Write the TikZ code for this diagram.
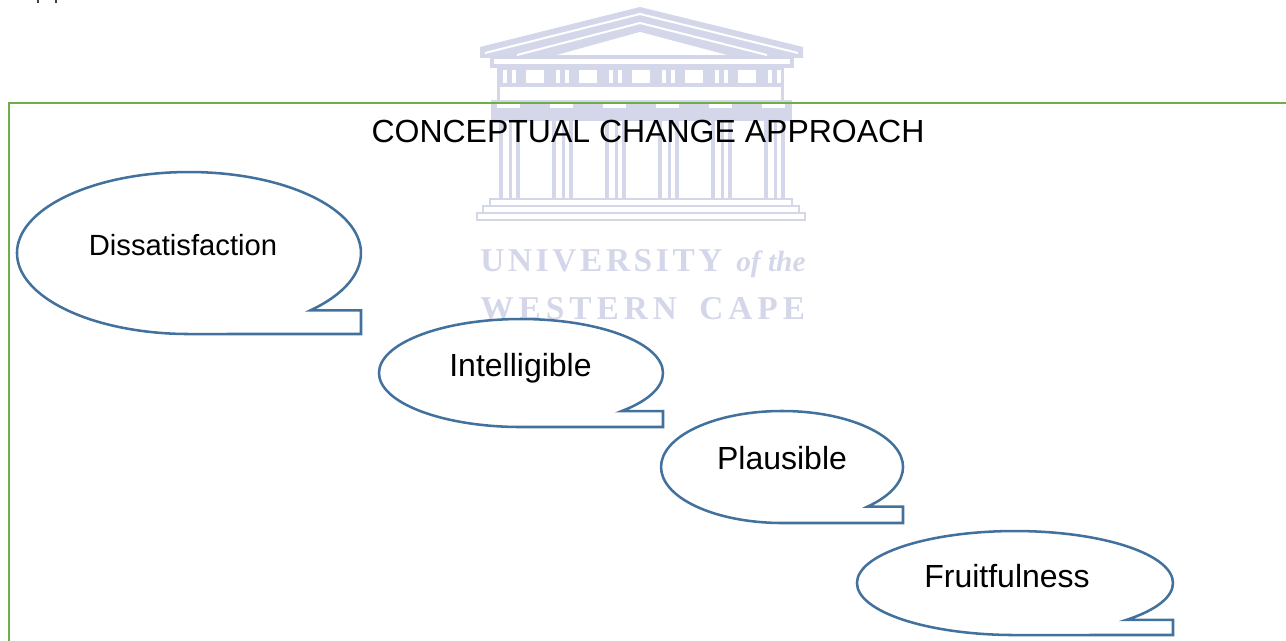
\documentclass[tikz,border=0pt]{standalone}
\usepackage{fontspec}
\setmainfont{Liberation Sans}
\newfontfamily\crestfont[LetterSpace=11]{Liberation Serif}
\newfontfamily\crestwide[LetterSpace=15]{Liberation Serif}
\newfontfamily\crestsmall{Liberation Serif}
\definecolor{crest}{RGB}{212,215,233}
\definecolor{bubbleblue}{RGB}{65,113,156}
\definecolor{framegreen}{RGB}{112,173,71}
\tikzstyle{bubble}=[draw=bubbleblue, line width=1.9pt, line join=miter, miter limit=20]
\tikzstyle{frameline}=[draw=framegreen, line width=1.9pt]
\tikzstyle{label}=[anchor=base, inner sep=0pt, text=black, font=\fontsize{24}{28}\selectfont]
\tikzstyle{cresttext}=[anchor=base west, inner sep=0pt, text=crest]

\begin{document}
\begin{tikzpicture}[x=0.75pt,y=-0.75pt]
        \useasboundingbox (0,0) rectangle (1286,641);

        % clipped line above the frame
        \fill[black!75] (37,0) rectangle (39,3);
        \fill[black!75] (55,0) rectangle (57,3);

        % crest behind everything
        \fill[crest] (480,47) -- (640,7) -- (803,47) -- (803,58) -- (480,58) -- cycle;
        \draw[white, line width=1.5pt] (485,53) -- (640,14) -- (798,53);
        \draw[white, line width=1.5pt] (517,55) -- (640,23) -- (767,55);
        \fill[white] (557,55) -- (640,32) -- (727,55) -- cycle;
        \fill[crest] (490,58) rectangle (794,68);
        \fill[white] (494,59.5) rectangle (790,64);
        \fill[crest] (497,64) rectangle (784,100);
        \fill[white] (500,87) rectangle (781,100);
        \fill[crest] (491,100) rectangle (792,121);
        \foreach \k in {0,...,5} {
            \fill[white] (503+53*\k,70) rectangle +(4,13);
            \fill[white] (512+53*\k,70) rectangle +(4,13);
            \fill[white] (497+53*\k,104) rectangle +(23,4);
            \fill[crest] (499+53*\k,108) rectangle +(4,90);
            \fill[crest] (509+53*\k,108) rectangle +(3,90);
            \fill[crest] (516+53*\k,108) rectangle +(4,90);
        }
        \foreach \k in {0,...,4} {
            \fill[white] (526+53*\k,70) rectangle +(18,13);
        }
        \draw[crest, fill=white, line width=1.3pt] (490,199) rectangle (792,206);
        \draw[crest, fill=white, line width=1.3pt] (483,206) rectangle (799,213);
        \draw[crest, fill=white, line width=1.3pt] (477,213) rectangle (805,220);
        \node[cresttext, font=\crestfont\bfseries\fontsize{25}{28}\selectfont] (university) at (480,272) {UNIVERSITY};
        \node[cresttext, font=\crestsmall\bfseries\itshape\fontsize{22}{26}\selectfont] (ofthe) at (736,272) {of the};
        \node[cresttext, font=\crestwide\bfseries\fontsize{25}{28}\selectfont] (western) at (480,320) {WESTERN\hspace{0.67em}CAPE};

        % frame runs off the page
        \draw[frameline] (1286,103) -- (9,103) -- (9,641);
        \node[label] (title) at (648,143) {CONCEPTUAL CHANGE APPROACH};

        \draw[bubble] (310.6,310.3) arc[start angle=45, end angle=-270, x radius=172, y radius=81] -- (361,334) -- (361,310.3) -- cycle;
        \node[label, font=\fontsize{21.9}{26}\selectfont] (dissatisfaction) at (183,256) {Dissatisfaction};

        \draw[bubble] (621.4,411.2) arc[start angle=45, end angle=-270, x radius=142, y radius=54] -- (663,427) -- (663,411.2) -- cycle;
        \node[label] (intelligible) at (520.5,377) {Intelligible};

        \draw[bubble] (867.6,506.6) arc[start angle=45, end angle=-270, x radius=121, y radius=56] -- (903,523) -- (903,506.6) -- cycle;
        \node[label] (plausible) at (782,470) {Plausible};

        \draw[bubble] (1126.7,619.8) arc[start angle=45, end angle=-270, x radius=158, y radius=52] -- (1173,635) -- (1173,619.8) -- cycle;
        \node[label] (fruitfulness) at (1007,587) {Fruitfulness};
\end{tikzpicture}
\end{document}
